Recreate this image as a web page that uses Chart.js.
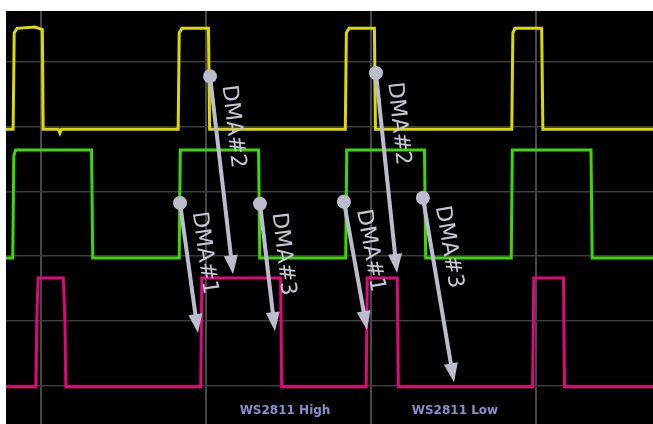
<!DOCTYPE html>
<html>
<head>
<meta charset="utf-8">
<script src="https://cdn.jsdelivr.net/npm/chart.js@4/dist/chart.umd.min.js"></script>
<style>
  html, body { margin: 0; padding: 0; background: #fff; }
  #wrap { width: 653px; height: 424px; }
</style>
</head>
<body>
<div id="wrap"><canvas id="scope" width="653" height="424"></canvas></div>
<script>
// time in ns (1 div = 1250 ns), level in divisions (ch offsets included)
var yellowT = [-261, -207, -199, -178, -42, 14, 20, 135, 147, 159, 1041, 1049, 1070, 1270, 1279, 2305, 2313, 2333, 2525, 2533, 3564, 3572, 3588, 3790, 3799, 4632];
var yellowV = [3.96, 3.96, 5.45, 5.52, 5.54, 5.5, 3.96, 3.96, 3.9, 3.96, 3.96, 5.45, 5.52, 5.52, 3.96, 3.96, 5.45, 5.52, 5.52, 3.96, 3.96, 5.45, 5.52, 5.52, 3.96, 3.96];

var greenT = [-261, -210, -202, -188, 386, 395, 1049, 1057, 1649, 1658, 2308, 2316, 2904, 2913, 3560, 3568, 4163, 4172, 4632];
var greenV = [1.97, 1.97, 3.55, 3.64, 3.64, 1.97, 1.97, 3.64, 3.64, 1.97, 1.97, 3.64, 3.64, 1.97, 1.97, 3.64, 3.64, 1.97, 1.97];

var pinkT = [-261, -35, -27, -18, 172, 184, 192, 1212, 1220, 1816, 1824, 2463, 2471, 2698, 2706, 3722, 3730, 3955, 3963, 4632];
var pinkV = [-0.02, -0.02, 1.09, 1.66, 1.66, 1.05, -0.02, -0.02, 1.66, 1.66, -0.02, -0.02, 1.66, 1.66, -0.02, -0.02, 1.66, 1.66, -0.02, -0.02];

// annotation arrows: start (circle) and tip, same units
var arrowLabels = ['DMA#2', 'DMA#1', 'DMA#3', 'DMA#2', 'DMA#1', 'DMA#3'];
var arrowX0 = [1282, 1055, 1660, 2537, 2295, 2892];
var arrowY0 = [4.78, 2.82, 2.81, 4.83, 2.84, 2.90];
var arrowX1 = [1456, 1191, 1773, 2696, 2469, 3127];
var arrowY1 = [1.72, 0.81, 0.84, 1.74, 0.86, 0.05];

var bottomLabels = ['WS2811 High', 'WS2811 Low'];
var bottomX = [1849, 3134];
var bottomY = [-0.39, -0.39];

var xTicks = [0, 1250, 2500, 3750];
var yTicks = [0, 1, 2, 3, 4, 5];

function pts(T, V) {
  return T.map(function (t, i) { return { x: t, y: V[i] }; });
}

var screenBg = {
  id: 'screenBg',
  beforeDraw: function (chart) {
    var a = chart.chartArea, c = chart.ctx;
    c.save();
    c.fillStyle = '#000';
    c.fillRect(a.left, a.top, a.right - a.left, a.bottom - a.top);
    c.restore();
  }
};

var notes = {
  id: 'notes',
  afterDatasetsDraw: function (chart) {
    var c = chart.ctx, sx = chart.scales.x, sy = chart.scales.y;
    c.save();
    for (var i = 0; i < arrowLabels.length; i++) {
      var x0 = sx.getPixelForValue(arrowX0[i]), y0 = sy.getPixelForValue(arrowY0[i]);
      var x1 = sx.getPixelForValue(arrowX1[i]), y1 = sy.getPixelForValue(arrowY1[i]);
      var ang = Math.atan2(y1 - y0, x1 - x0);
      var len = Math.hypot(x1 - x0, y1 - y0);
      c.save();
      c.translate(x0, y0);
      c.rotate(ang);
      c.strokeStyle = '#bcbccf';
      c.fillStyle = '#bcbccf';
      c.lineWidth = 4;
      c.beginPath();
      c.moveTo(0, 0);
      c.lineTo(len - 16, 0);
      c.stroke();
      c.beginPath();
      c.moveTo(len, 0);
      c.lineTo(len - 19, -7);
      c.lineTo(len - 19, 7);
      c.closePath();
      c.fill();
      c.beginPath();
      c.arc(0, 0, 7, 0, Math.PI * 2);
      c.fill();
      c.font = '22px "DejaVu Sans"';
      c.fillStyle = '#c6c6d6';
      c.textAlign = 'left';
      c.textBaseline = 'middle';
      c.fillText(arrowLabels[i], 11, -17);
      c.restore();
    }
    c.font = 'bold 12px "DejaVu Sans"';
    c.fillStyle = '#8c8cd0';
    c.textAlign = 'center';
    c.textBaseline = 'middle';
    for (var j = 0; j < bottomLabels.length; j++) {
      c.fillText(bottomLabels[j], sx.getPixelForValue(bottomX[j]), sy.getPixelForValue(bottomY[j]));
    }
    c.restore();
  }
};

var ctx = document.getElementById('scope').getContext('2d');

var scope = new Chart(ctx, {
  type: 'line',
  data: {
    datasets: [
      { label: 'Ch1', data: pts(yellowT, yellowV), borderColor: '#dcd800', borderWidth: 3 },
      { label: 'Ch2', data: pts(greenT, greenV), borderColor: '#3cd800', borderWidth: 3 },
      { label: 'Ch3', data: pts(pinkT, pinkV), borderColor: '#e0087c', borderWidth: 3 }
    ]
  },
  options: {
    responsive: false,
    animation: false,
    layout: { padding: { left: 6, top: 11, right: 0, bottom: 0 } },
    elements: { point: { radius: 0 }, line: { tension: 0 } },
    plugins: { legend: { display: false }, tooltip: { enabled: false } },
    scales: {
      x: {
        type: 'linear',
        min: -261,
        max: 4632,
        afterBuildTicks: function (s) { s.ticks = xTicks.map(function (v) { return { value: v }; }); },
        ticks: { display: false },
        border: { display: false },
        grid: { color: '#484848', lineWidth: 2, drawTicks: false }
      },
      y: {
        min: -0.595,
        max: 5.788,
        afterBuildTicks: function (s) { s.ticks = yTicks.map(function (v) { return { value: v }; }); },
        ticks: { display: false },
        border: { display: false },
        grid: { color: '#3c3c3c', lineWidth: 1.5, drawTicks: false }
      }
    }
  },
  plugins: [screenBg, notes]
});
</script>
</body>
</html>
